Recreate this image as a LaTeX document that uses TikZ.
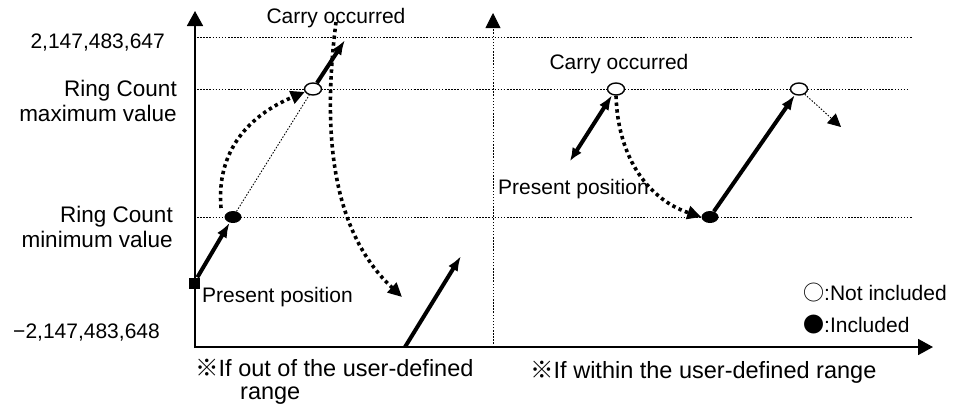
\documentclass[tikz,border=0pt]{standalone}
\usepackage{fontspec}
\setmainfont{Liberation Sans}
\newfontfamily\cjk{Noto Sans CJK KR}
\usetikzlibrary{arrows.meta,shapes.geometric}
\tikzset{
	axis/.style={line width=1.8pt,-{Triangle[length=15pt,width=16pt]}},
	guide/.style={line width=0.9pt,dash pattern=on 1.5pt off 1.6pt},
	move/.style={line width=4pt,-{Latex[length=15pt,width=11pt]}},
	jump/.style={line width=3.6pt,dash pattern=on 3.4pt off 3.4pt,
		-{Triangle[length=14pt,width=13pt]}},
	openpt/.style={ellipse,draw,line width=1.4pt,fill=white,
		minimum width=17pt,minimum height=12pt,inner sep=0pt},
	fillpt/.style={ellipse,fill,minimum width=17pt,minimum height=12pt,inner sep=0pt},
	startpt/.style={rectangle,fill,minimum size=11pt,inner sep=0pt},
	lbl/.style={font=\fontsize{21}{25}\selectfont,inner sep=0pt},
	note/.style={font=\fontsize{23.5}{23}\selectfont,inner sep=0pt,align=left},
}

\begin{document}
\begin{tikzpicture}[x=1pt,y=-1pt]
	\useasboundingbox (0,0) rectangle (957,405);
	
	% axes and level lines
	\draw[guide] (197,37) -- (913,37);
	\draw[guide] (197,89) -- (910,89);
	\draw[guide] (197,217) -- (913,217);
	\draw[guide,-{Triangle[length=15pt,width=15pt]}] (493,347) -- (493,13);
	\draw[axis] (195,348) -- (195,11);
	\draw[axis] (194,347) -- (933,347);
	
	% value labels
	\node[lbl,anchor=east] (vtop) at (165,43) {2,147,483,647};
	\node[lbl,anchor=east,align=right,font=\fontsize{22.5}{25}\selectfont] (vmax) at (177,101) {Ring Count\\maximum value};
	\node[lbl,anchor=east,align=right,font=\fontsize{22.5}{25}\selectfont] (vmin) at (173,227) {Ring Count\\minimum value};
	\node[lbl,anchor=east] (vbot) at (160,333) {−2,147,483,648};
	
	% out of range
	\node[startpt] (sq) at (194,283) {};
	\node[fillpt] (mnA) at (233,217) {};
	\node[openpt] (mxA) at (313,89) {};
	\coordinate (topA) at (345,40);
	\coordinate (jA) at (221,208);
	\coordinate (jB) at (336,22);
	\coordinate (jBend) at (402,297);
	\coordinate (baseA) at (405,347);
	\coordinate (tipA) at (461,256);
	\draw[guide] (mnA) -- (mxA);
	\draw[move] (sq) -- (mnA);
	\draw[move] (mxA) -- (topA);
	\draw[jump] (jA) .. controls (216,150) and (250,115) .. (mxA.200);
	\draw[jump] (jB) .. controls (320,150) and (338,237) .. (jBend);
	\draw[move] (baseA) -- (tipA);
	\node[lbl] (carryA) at (336,18) {Carry occurred};
	\node[lbl,anchor=west] (presA) at (202,297) {Present position};
	
	% within range
	\node[openpt] (mxB) at (616,89) {};
	\node[fillpt] (mnB) at (710,217) {};
	\node[openpt] (mxC) at (799,89) {};
	\coordinate (backB) at (570,161);
	\coordinate (outC) at (841,127);
	\draw[move,{Latex[length=13pt,width=11pt]}-{Latex[length=15pt,width=11pt]}] (backB) -- (mxB);
	\draw[jump] (mxB.south) .. controls (618,160) and (650,200) .. (mnB.west);
	\draw[move] (mnB) -- (mxC);
	\draw[guide,-{Triangle[length=13pt,width=13pt]}] (mxC) -- (outC);
	\node[lbl] (carryB) at (619,64) {Carry occurred};
	\node[lbl,anchor=west] (presB) at (498,189) {Present position};
	
	% legend and notes
	\node[lbl,anchor=west] (keyopen) at (803,293) {{\cjk ○}:Not included};
	\node[lbl,anchor=west] (keyfill) at (803,325) {{\cjk ●}:Included};
	\node[note,anchor=west] (noteA) at (195,382) {{\cjk ※}If out of the user-defined\\\hspace*{45pt}range};
	\node[note,anchor=west] (noteB) at (530,372) {{\cjk ※}If within the user-defined range};
\end{tikzpicture}
\end{document}
